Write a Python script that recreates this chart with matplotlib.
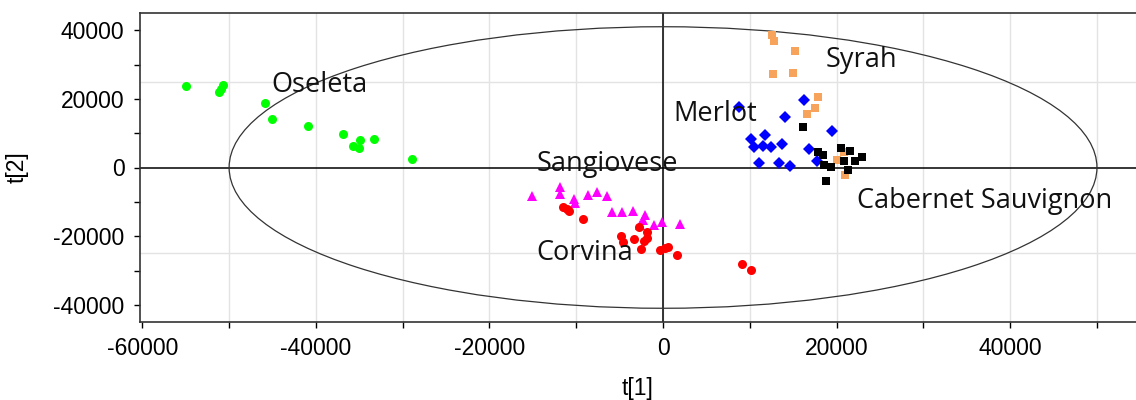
import numpy as np
import matplotlib.pyplot as plt
from matplotlib.patches import Ellipse

# scores t[1], t[2] per wine variety
oseleta_t1 = [-55000, -50700, -50900, -51200, -45900, -45100, -40900, -36900, -34900, -33300, -35700, -35000, -28900]
oseleta_t2 = [23700, 24000, 23000, 21900, 18800, 14100, 12100, 9700, 8000, 8300, 6200, 5800, 2400]

sangiovese_t1 = [-15100, -11900, -11900, -10300, -10200, -8600, -7600, -6400, -5900, -4700, -3500, -2100, -2300, -2700, -1000, -100, 2000]
sangiovese_t2 = [-8300, -5600, -7700, -9200, -10400, -8100, -7100, -8400, -13000, -13000, -12800, -13700, -15300, -16700, -16700, -16000, -16400]

corvina_t1 = [-11500, -11100, -10800, -9200, -2800, -1900, -1900, -2200, -4800, -4600, -3300, -2500, -300, 200, 600, 1600, 9100, 10100]
corvina_t2 = [-11400, -12200, -12800, -15000, -17400, -18900, -20600, -21300, -19900, -21600, -20700, -23700, -24000, -23500, -23200, -25400, -28100, -29800]

merlot_t1 = [8800, 16300, 14100, 19500, 11800, 10100, 10500, 11500, 12400, 13700, 16800, 17700, 11100, 13400, 14600]
merlot_t2 = [17700, 19800, 14800, 10600, 9400, 8300, 5900, 6200, 6000, 6700, 5300, 2000, 1200, 1400, 500]

syrah_t1 = [12500, 12800, 15200, 12700, 15000, 17800, 17500, 16600, 20000, 20900, 21000]
syrah_t2 = [38500, 36900, 33900, 27200, 27600, 20500, 17200, 15500, 2200, 4600, -2100]

cabernet_t1 = [16100, 17900, 18400, 18500, 19300, 18800, 20500, 21500, 20800, 22100, 22900, 21300]
cabernet_t2 = [11900, 4600, 3600, 700, 100, -3800, 5600, 4900, 2000, 2000, 3000, -700]

labels = ['Oseleta', 'Sangiovese', 'Corvina', 'Merlot', 'Syrah', 'Cabernet Sauvignon']
label_t1 = [-45100, -14600, -14600, 1200, 18700, 22300]
label_t2 = [24000, 1000, -24900, 15500, 31200, -9700]

ellipse_a = 50000
ellipse_b = 41000

plt.rcParams['font.family'] = ['Liberation Sans', 'DejaVu Sans']
plt.rcParams['axes.unicode_minus'] = False

fig = plt.figure(figsize=(11.36, 4), dpi=100)
ax = fig.add_axes([0.123, 0.195, 0.877, 0.7725])

ax.set_xlim(-60300, 54500)
ax.set_ylim(-45000, 45000)

# grid: vertical every 10000, horizontal at +-25000
for gx in range(-50000, 60000, 10000):
	ax.axvline(gx, color='#e3e3e3', lw=1, zorder=0)
for gy in [-25000, 25000]:
	ax.axhline(gy, color='#e3e3e3', lw=1, zorder=0)
ax.axhline(0, color='black', lw=1.1, zorder=1)
ax.axvline(0, color='black', lw=1.1, zorder=1)

ax.add_patch(Ellipse((0, 0), 2 * ellipse_a, 2 * ellipse_b, fill=False, edgecolor='#333333', lw=0.9, zorder=2))

ax.plot(oseleta_t1, oseleta_t2, 'o', color='#00ff00', ms=6.5, mew=0, zorder=3)
ax.plot(sangiovese_t1, sangiovese_t2, '^', color='#ff00ff', ms=7.5, mew=0, zorder=3)
ax.plot(corvina_t1, corvina_t2, 'o', color='#ff0000', ms=6.5, mew=0, zorder=3)
ax.plot(merlot_t1, merlot_t2, 'D', color='#0000ff', ms=6, mew=0, zorder=3)
ax.plot(syrah_t1, syrah_t2, 's', color='#f7a35c', ms=5.8, mew=0, zorder=3)
ax.plot(cabernet_t1, cabernet_t2, 's', color='black', ms=5.8, mew=0, zorder=3)

for txt, lx, ly in zip(labels, label_t1, label_t2):
	ax.text(lx, ly, txt, fontsize=19.5, family=['Open Sans', 'DejaVu Sans'], ha='left', va='center', color='#111111', zorder=4)

ax.set_xticks(range(-60000, 60000, 20000))
ax.set_xticks(range(-60000, 60000, 10000), minor=True)
ax.set_yticks(range(-40000, 60000, 20000))
ax.set_yticks(range(-40000, 50000, 10000), minor=True)
ax.tick_params(labelsize=16.5, length=4, width=1, direction='out', pad=7)
ax.tick_params(which='minor', length=4, width=1)

ax.spines['right'].set_visible(False)
for s in ['left', 'bottom', 'top']:
	ax.spines[s].set_linewidth(1.2)
	ax.spines[s].set_color('#333333')

ax.set_xlabel('t[1]', fontsize=16.5, labelpad=12)
ax.set_ylabel('t[2]', fontsize=16.5, labelpad=18)

fig.savefig('out.png', dpi=100)
